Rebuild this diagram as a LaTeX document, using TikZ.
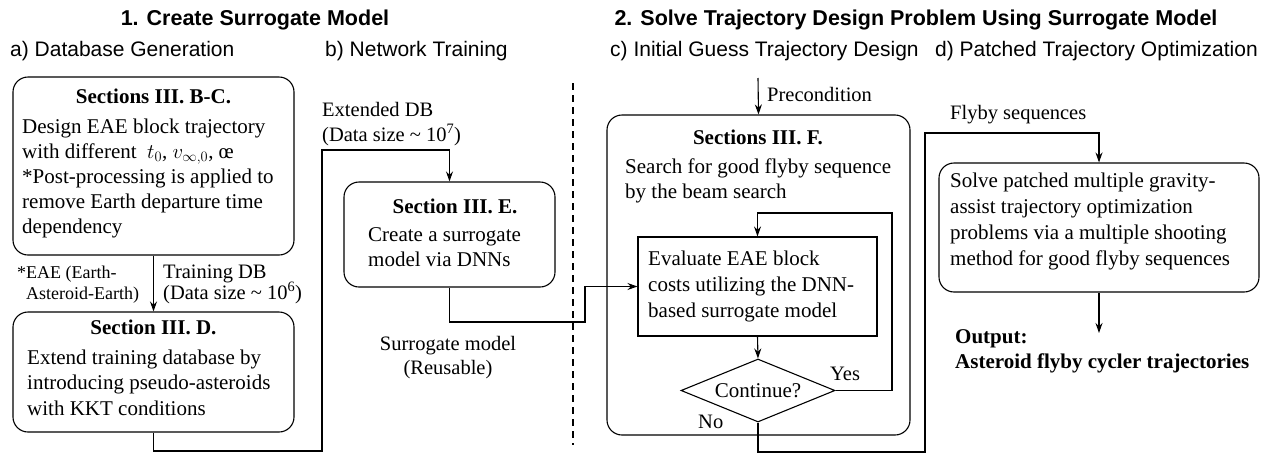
\documentclass[tikz,border=0pt]{standalone}
\usepackage{fontspec}
\setmainfont{Liberation Serif}
\setsansfont{Liberation Sans}
\usetikzlibrary{shapes.geometric,arrows.meta}
\begin{document}
\begin{tikzpicture}[x=1pt,y=-1pt,
  box/.style={draw, rounded corners=15pt, line width=1.1pt, inner sep=0pt},
  sqbox/.style={draw, line width=1.1pt, inner sep=0pt},
  txt/.style={font=\fontsize{21}{25}\selectfont, inner sep=0pt, anchor=base west},
  hd/.style={font=\fontsize{21}{25}\selectfont\bfseries, inner sep=0pt, anchor=base},
  lbl/.style={font=\fontsize{20.5}{25}\selectfont, inner sep=0pt, anchor=base west},
  small/.style={font=\fontsize{18}{22}\selectfont, inner sep=0pt, anchor=base west},
  title/.style={font=\sffamily\bfseries\fontsize{21.5}{25}\selectfont, inner sep=0pt, anchor=base},
  sub/.style={font=\sffamily\fontsize{21}{25}\selectfont, inner sep=0pt, anchor=base west},
  conn/.style={line width=1.1pt},
  arr/.style={conn, -{Stealth[length=10pt,width=7pt]}}]
\useasboundingbox (0,0) rectangle (1272,453);

% titles
\node[title] (t1) at (255,25) {1. Create Surrogate Model};
\node[title] (t2) at (916,25) {2. Solve Trajectory Design Problem Using Surrogate Model};
\node[sub] (sa) at (10,56) {a) Database Generation};
\node[sub] (sb) at (325,56) {b) Network Training};
\node[sub] (sc) at (610,56) {c) Initial Guess Trajectory Design};
\node[sub] (sd) at (935,56) {d) Patched Trajectory Optimization};

% boxes
\node[box, minimum width=281, minimum height=178] (A) at (153.5,166) {};
\node[box, minimum width=281, minimum height=120] (D) at (153.5,372) {};
\node[box, minimum width=211, minimum height=105] (E) at (449.5,234.5) {};
\node[box, minimum width=303, minimum height=320] (F) at (758.5,275) {};
\node[sqbox, minimum width=239, minimum height=99] (V) at (757.5,286.5) {};
\node[draw, diamond, line width=1.1pt, inner sep=0pt, minimum width=154, minimum height=63, shape aspect=2.44] (Q) at (758,390.5) {};
\node[box, minimum width=320, minimum height=129] (G) at (1099,227.5) {};

% box A text
\node[hd] (Ah) at (153.5,103) {Sections III. B-C.};
\node[txt] (A1) at (22,133) {Design EAE block trajectory};
\node[txt] (A2) at (22,158) {with different\ \ $t_0$, $v_{\infty,0}$, œ};
\node[txt] (A3) at (22,183) {*Post-processing is applied to};
\node[txt] (A4) at (22,208) {remove Earth departure time};
\node[txt] (A5) at (22,233) {dependency};

% box D text
\node[hd] (Dh) at (153.5,334) {Section III. D.};
\node[txt] (D1) at (27,364) {Extend training database by};
\node[txt] (D2) at (27,389.5) {introducing pseudo-asteroids};
\node[txt] (D3) at (27,415) {with KKT conditions};

% labels between A and D
\node[small] (L1) at (17,278) {*EAE (Earth-};
\node[small] (L2) at (26,299) {Asteroid-Earth)};
\node[lbl] (L3) at (163,278) {Training DB};
\node[lbl] (L4) at (163,299) {(Data size {\textasciitilde} 10\textsuperscript{6})};

% extended DB
\node[lbl] (L5) at (322,116) {Extended DB};
\node[lbl] (L6) at (322,141) {(Data size {\textasciitilde} 10\textsuperscript{7})};

% box E text
\node[hd] (Eh) at (455,213) {Section III. E.};
\node[txt] (E1) at (368,241) {Create a surrogate};
\node[txt] (E2) at (368,266) {model via DNNs};

\node[lbl, anchor=base] (L7) at (448,350) {Surrogate model};
\node[lbl, anchor=base] (L8) at (448,374) {(Reusable)};

% box F text
\node[lbl] (L9) at (767,101) {Precondition};
\node[hd] (Fh) at (758,144) {Sections III. F.};
\node[txt] (F1) at (625,173) {Search for good flyby sequence};
\node[txt] (F2) at (625,198) {by the beam search};
\node[txt] (V1) at (648,265) {Evaluate EAE block};
\node[txt] (V2) at (648,291) {costs utilizing the DNN-};
\node[txt] (V3) at (648,317) {based surrogate model};
\node[txt, anchor=center] (Qt) at (Q.center) {Continue?};
\node[lbl] (Ly) at (830,380) {Yes};
\node[lbl] (Ln) at (698,428) {No};

% box G text
\node[lbl] (L10) at (950,119) {Flyby sequences};
\node[txt] (G1) at (950,187) {Solve patched multiple gravity-};
\node[txt] (G2) at (950,213) {assist trajectory optimization};
\node[txt] (G3) at (950,239) {problems via a multiple shooting};
\node[txt] (G4) at (950,265) {method for good flyby sequences};
\node[txt, font=\fontsize{21}{25}\selectfont\bfseries] (O1) at (955,343) {Output:};
\node[txt, font=\fontsize{21}{25}\selectfont\bfseries] (O2) at (955,368) {Asteroid flyby cycler trajectories};

% dashed divider
\coordinate (dv1) at (573,83);
\coordinate (dv2) at (573,445);
\draw[line width=1.6pt, dash pattern=on 7pt off 5pt] (dv1) -- (dv2);

% connectors
\draw[arr] (A.south) -- (D.north);
\coordinate (c1) at (322,451);
\coordinate (c2) at (322,150);
\draw[arr] (D.south) |- (c1) -- (c2) -| (E.north);
\coordinate (c3) at (585,322);
\draw[arr] (E.south) |- (c3) |- (V.west);
\coordinate (p0) at (758,78);
\draw[arr] (p0) -- (F.north);
\draw[arr] (V.south) -- (Q.north);
\coordinate (c4) at (892,213);
\draw[arr] (Q.east) -| (c4) -| (V.north);
\coordinate (c5) at (925,452);
\coordinate (c6) at (925,133);
\draw[arr] (Q.south) |- (c5) -- (c6) -| (G.north);
\coordinate (c7) at (1099,333);
\draw[arr] (G.south) -- (c7);
\end{tikzpicture}
\end{document}
